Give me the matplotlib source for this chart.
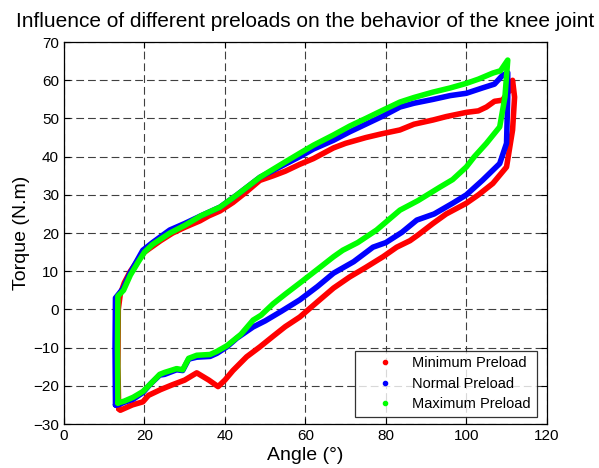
import matplotlib
matplotlib.use('Agg')
import matplotlib.pyplot as plt
from matplotlib.lines import Line2D

plt.rcParams['font.family'] = ['Liberation Sans', 'DejaVu Sans']

# Minimum preload loop (upper branch then lower branch back)
min_x = [13.6, 13.4, 13.5, 14, 15, 16.5, 18.5, 20, 22, 24, 27, 30, 33.8, 36, 38.8, 42, 45, 48.7,
         52, 55, 58.6, 62, 67, 70, 75, 79, 83.5, 87, 91.7, 95, 100, 103, 105, 107, 109, 110.5, 111.5,
         112, 111.5, 110, 106.6, 103, 100, 95, 91.7, 88, 86, 82.7, 79.3, 75, 71, 67, 63, 58.6,
         55, 52, 48.7, 45.4, 42, 40, 38.3, 36, 33, 30, 27, 24, 21, 19.6, 17, 14, 13.6]
min_y = [-26, -15, 0, 4, 7, 10, 13, 15, 16.5, 18, 20, 21.5, 23.2, 24.5, 25.8, 28, 30.5, 33.8,
         35, 36.2, 38, 39.5, 42.3, 43.5, 45, 46, 47, 48.5, 49.6, 50.5, 51.6, 52, 53, 54.5, 54.8, 57, 60,
         55.6, 47, 37.3, 33, 30, 27.8, 25, 22.5, 19.5, 18, 16.3, 13.8, 11, 8.5, 5.6, 2, -2,
         -4.5, -7, -9.8, -12.4, -16, -18.5, -20.2, -18.5, -16.6, -18.5, -19.7, -21, -22.5, -24.2, -25, -26.4, -26]

# Normal preload loop
nor_x = [12.8, 12.7, 12.8, 14.7, 16.4, 18, 19.6, 22, 26.3, 30, 34, 38.8, 43, 48.7, 54, 58.6, 62,
         67, 71, 75, 79, 83.5, 87, 91.7, 96, 100, 104, 107, 109, 110.3,
         110.3, 110, 108.3, 104, 100, 96.6, 92, 87.7, 84, 80, 76.8, 72, 67, 63, 58.6, 54, 50,
         47, 43, 40.5, 38, 36.3, 33, 31, 29.5, 28, 25, 23.8, 21.5, 19.6, 17.2, 15, 13.4, 12.8]
nor_y = [-25, -10, 3, 5.5, 9.5, 12.5, 15.5, 17.5, 20.8, 22.5, 24.5, 26.8, 30, 34.6, 37.5, 40, 42,
         44.3, 46.5, 48.5, 50.5, 53, 54, 55, 56, 56.6, 58, 59, 61.3, 62,
         55.6, 43.5, 38.2, 33.8, 30, 27.8, 25, 23.4, 20.2, 17.5, 16.3, 12.5, 9.5, 6, 2.5, -0.5, -3,
         -4.6, -7.5, -9.8, -11.5, -12.3, -12.5, -13, -16, -15.8, -17, -17.2, -19.5, -21.8, -23.5, -24.3, -25, -25]

# Maximum preload loop
max_x = [13.4, 13.3, 13.4, 14.8, 16.5, 18.5, 20, 22, 26.3, 30, 34, 38.8, 43, 48.7, 54, 58.6, 62,
         67, 71, 75, 79.3, 83.5, 87, 91.7, 96, 100, 103, 106.6, 108.5, 110.3,
         109.6, 108.3, 105, 102, 100, 96.6, 93.4, 88, 83.5, 77.7, 73, 69.3, 67, 63, 58.6, 55, 52,
         49, 47, 44, 40.5, 38, 36.3, 33, 31, 29.5, 28, 25, 23.8, 21.5, 19.6, 17.2, 15, 13.4]
max_y = [-24.5, -10, 3.5, 5, 9, 12.5, 15, 17, 20, 22, 24.5, 26.8, 30, 34.6, 38, 40.9, 43,
         45.7, 48, 50, 52.2, 54.3, 55.5, 56.9, 58, 59.2, 60.3, 61.9, 62.5, 65.3,
         55.6, 47.8, 43.5, 40, 37.3, 34, 32, 28.5, 26, 20.8, 17.5, 15.5, 13.8, 10.5, 6.9, 4, 1.5,
         -1.5, -2.8, -6.5, -9.5, -11, -11.8, -12, -12.8, -15.8, -15.5, -16.5, -17, -19.5, -21.5, -23, -24, -24.5]

labels = ["Minimum Preload", "Normal Preload", "Maximum Preload"]
colors = ["#ff0000", "#0000ff", "#00ff00"]

fig = plt.figure(figsize=(5.99, 4.68), dpi=100)
ax = fig.add_axes([0.1068, 0.094, 0.806, 0.816])

for xs, ys, c in zip([min_x, nor_x, max_x], [min_y, nor_y, max_y], colors):
    ax.plot(xs, ys, color=c, linewidth=4, solid_joinstyle='round', solid_capstyle='round')

ax.set_xlim(0, 120)
ax.set_ylim(-30, 70)
ax.set_xticks(range(0, 121, 20))
ax.set_yticks(range(-30, 71, 10))
ax.grid(True, color='0.25', linestyle=(0, (7, 3.6)), linewidth=0.8)
ax.tick_params(direction='in', top=True, right=True, labelsize=11, length=4)
for s in ax.spines.values():
    s.set_linewidth(0.9)

ax.set_title("Influence of different preloads on the behavior of the knee joint", fontsize=15, pad=11)
ax.set_xlabel("Angle (°)", fontsize=14, labelpad=3)
ax.set_ylabel("Torque (N.m)", fontsize=14, labelpad=2)

handles = [Line2D([], [], color=c, marker='.', linestyle='none', markersize=6) for c in colors]
leg = ax.legend(handles, labels, loc='lower right', bbox_to_anchor=(1 - 10 / 483, 7 / 382),
                borderaxespad=0, fontsize=10.5, frameon=True, fancybox=False, edgecolor='black',
                handlelength=3.4, handletextpad=0.15, labelspacing=0.44, borderpad=0.4)
leg.get_frame().set_linewidth(0.9)

plt.savefig("out.png", dpi=100)
